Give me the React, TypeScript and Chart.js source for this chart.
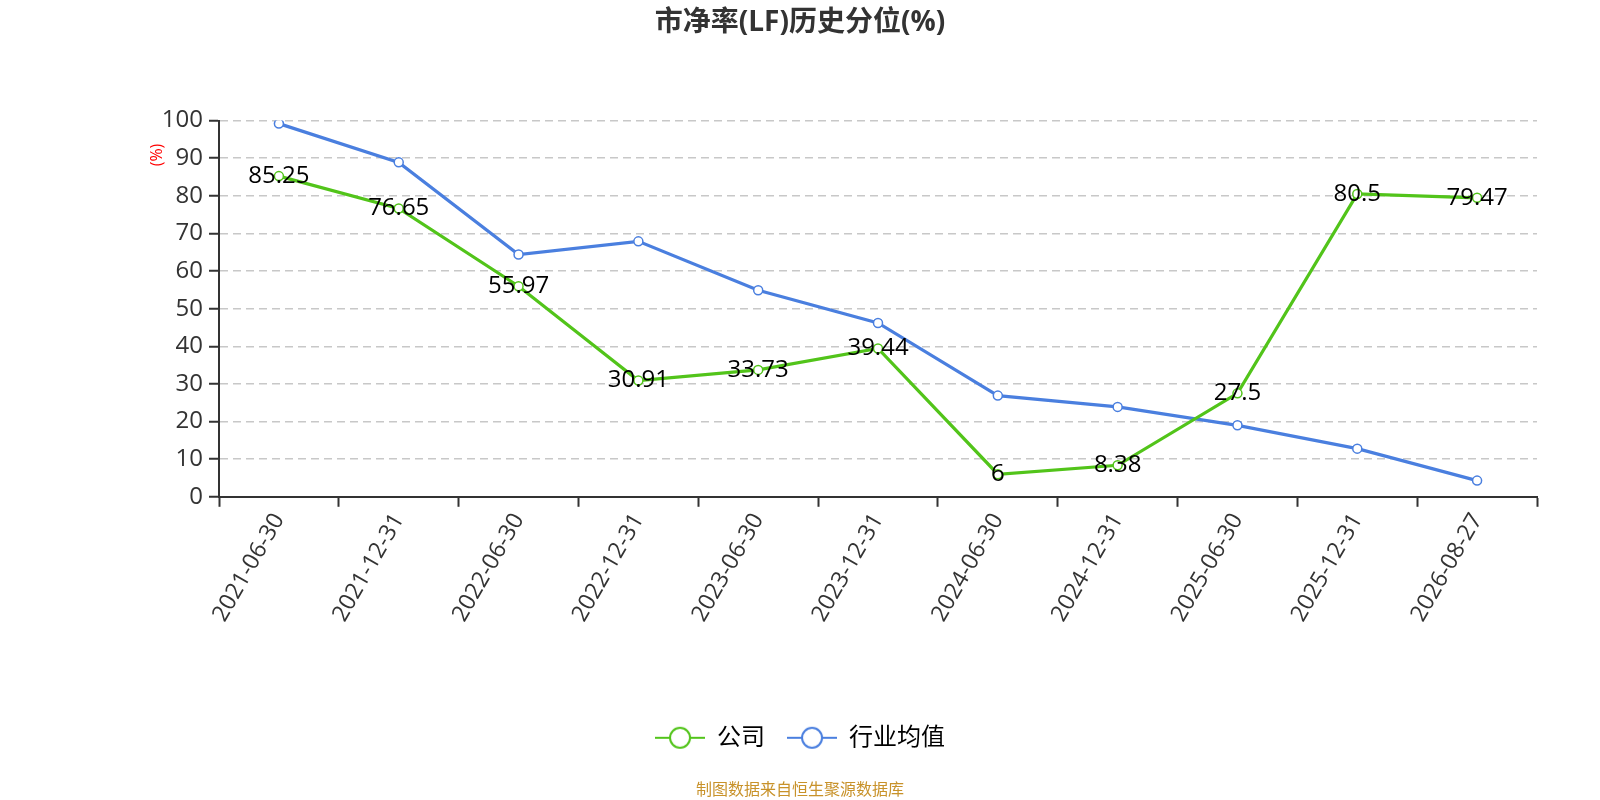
import { useEffect, useRef } from "react";
import { Chart, registerables } from "chart.js";

Chart.register(...registerables);

const dates = [
  "2021-06-30",
  "2021-12-31",
  "2022-06-30",
  "2022-12-31",
  "2023-06-30",
  "2023-12-31",
  "2024-06-30",
  "2024-12-31",
  "2025-06-30",
  "2025-12-31",
  "2026-08-27",
];
const companyValues = [85.25, 76.65, 55.97, 30.91, 33.73, 39.44, 6, 8.38, 27.5, 80.5, 79.47];
const industryValues = [99.2, 88.9, 64.4, 67.9, 54.9, 46.2, 26.9, 23.9, 19.0, 12.8, 4.3];

const GREEN = "#52c41a";
const BLUE = "#4a7fdf";
const FONT = "'Open Sans', 'Noto Sans CJK SC', sans-serif";

function legendIcon(color: string) {
  const c = document.createElement("canvas");
  c.width = 50;
  c.height = 26;
  const ctx = c.getContext("2d")!;
  ctx.strokeStyle = color;
  ctx.lineWidth = 2;
  ctx.beginPath();
  ctx.moveTo(0, 13);
  ctx.lineTo(50, 13);
  ctx.stroke();
  ctx.beginPath();
  ctx.arc(25, 13, 10, 0, Math.PI * 2);
  ctx.fillStyle = "#fff";
  ctx.fill();
  ctx.stroke();
  return c;
}

// value labels centred on each company point
const valueLabels = {
  id: "valueLabels",
  afterDatasetsDraw(chart: any) {
    const ctx = chart.ctx;
    const meta = chart.getDatasetMeta(0);
    ctx.save();
    ctx.font = `24px ${FONT}`;
    ctx.fillStyle = "#000";
    ctx.textAlign = "center";
    ctx.textBaseline = "middle";
    meta.data.forEach((pt: any, i: number) => {
      ctx.fillText(String(companyValues[i]), pt.x, pt.y);
    });
    ctx.restore();
  },
};

const unitLabel = {
  id: "unitLabel",
  afterDraw(chart: any) {
    const ctx = chart.ctx;
    ctx.save();
    ctx.translate(157, 155);
    ctx.rotate(-Math.PI / 2);
    ctx.font = `16px ${FONT}`;
    ctx.fillStyle = "#ff0000";
    ctx.textAlign = "center";
    ctx.textBaseline = "middle";
    ctx.fillText("(%)", 0, 0);
    ctx.restore();
  },
};

export default function App() {
  const canvasRef = useRef<HTMLCanvasElement>(null);
  const chartRef = useRef<Chart | null>(null);

  useEffect(() => {
    document.body.style.margin = "0";
    if (!canvasRef.current) return;
    chartRef.current?.destroy();

    const icons = [legendIcon(GREEN), legendIcon(BLUE)];

    chartRef.current = new Chart(canvasRef.current, {
      type: "line",
      data: {
        labels: dates,
        datasets: [
          {
            label: "公司",
            data: companyValues,
            borderColor: GREEN,
            backgroundColor: "#fff",
            borderWidth: 3.2,
            pointRadius: 4.5,
            pointBorderWidth: 1.5,
            pointBackgroundColor: "#fff",
            pointBorderColor: GREEN,
          },
          {
            label: "行业均值",
            data: industryValues,
            borderColor: BLUE,
            backgroundColor: "#fff",
            borderWidth: 3.2,
            pointRadius: 4.5,
            pointBorderWidth: 1.5,
            pointBackgroundColor: "#fff",
            pointBorderColor: BLUE,
          },
        ],
      },
      options: {
        animation: false,
        responsive: true,
        maintainAspectRatio: false,
        layout: { padding: { left: 63, right: 63, top: 0, bottom: 0 } },
        plugins: {
          title: {
            display: true,
            text: "市净率(LF)历史分位(%)",
            color: "#333",
            font: { family: FONT, size: 28, weight: "bold" },
            padding: { top: 6, bottom: 81 },
          },
          subtitle: {
            display: true,
            position: "bottom",
            text: "制图数据来自恒生聚源数据库",
            color: "#c8922a",
            font: { family: FONT, size: 16 },
            padding: { top: 21, bottom: 0 },
          },
          legend: {
            position: "bottom",
            labels: {
              usePointStyle: true,
              pointStyleWidth: 50,
              padding: 22,
              color: "#333",
              font: { family: FONT, size: 24 },
              generateLabels: (chart: any) =>
                chart.data.datasets.map((ds: any, i: number) => ({
                  text: ds.label,
                  pointStyle: icons[i],
                  fillStyle: "#fff",
                  strokeStyle: ds.borderColor,
                  lineWidth: 0,
                  datasetIndex: i,
                  hidden: false,
                })),
            },
          },
          tooltip: { enabled: false },
        },
        scales: {
          x: {
            offset: true,
            afterFit: (s: any) => {
              s.height = 207;
            },
            grid: {
              offset: true,
              drawOnChartArea: false,
              tickLength: 10,
              tickColor: "#333",
              tickWidth: 2,
            },
            border: { color: "#333", width: 2 },
            ticks: {
              color: "#333",
              font: { family: FONT, size: 23 },
              minRotation: 60,
              maxRotation: 60,
              autoSkip: false,
              padding: 2,
            },
          },
          y: {
            min: 0,
            max: 100,
            afterFit: (s: any) => {
              s.width = 156;
            },
            grid: {
              color: "#c8c8c8",
              lineWidth: 1.5,
              tickLength: 10,
              tickColor: "#333",
              tickWidth: 2,
              tickBorderDash: [],
            },
            border: { color: "#333", width: 2, dash: [8, 5] },
            ticks: {
              stepSize: 10,
              color: "#333",
              font: { family: FONT, size: 24 },
              padding: 6,
            },
          },
        },
      },
      plugins: [valueLabels, unitLabel],
    });

    return () => chartRef.current?.destroy();
  }, []);

  return (
    <div style={{ position: "fixed", left: 0, top: 0, width: 1600, height: 800 }}>
      <canvas ref={canvasRef} />
    </div>
  );
}
